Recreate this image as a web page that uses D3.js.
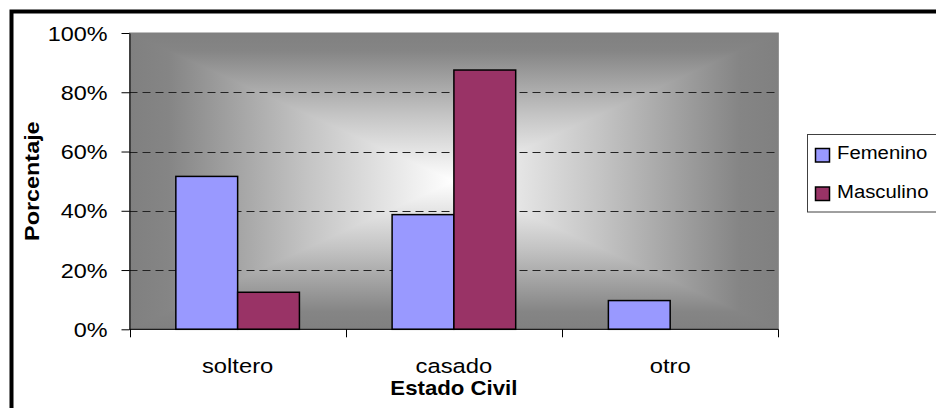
<!DOCTYPE html>
<html>
<head>
<meta charset="utf-8">
<script src="https://cdn.jsdelivr.net/npm/d3@7"></script>
<style>
  html, body { margin: 0; padding: 0; background: #fff; }
  svg { display: block; }
  text { font-family: "Liberation Sans", Arial, sans-serif; fill: #000; }
</style>
</head>
<body>
<svg id="chart" width="936" height="408"></svg>
<script>
// Estado civil por sexo (porcentaje dentro de cada sexo)
const categories = ["soltero", "casado", "otro"];
const seriesNames = ["Femenino", "Masculino"];
const femenino = [51.6, 38.7, 9.7];
const masculino = [12.5, 87.5, 0];
const yTicks = [0, 20, 40, 60, 80, 100];
const xTitle = "Estado Civil";
const yTitle = "Porcentaje";

const colors = { Femenino: "#9999ff", Masculino: "#993366" };
const seriesValues = { Femenino: femenino, Masculino: masculino };

const svg = d3.select("#chart");
const plot = { x0: 129.5, x1: 778.3, y0: 33, y1: 329.3 };

// Outer chart frame (continues past the right and bottom edges)
svg.append("rect")
  .attr("x", 11.5).attr("y", 11.5)
  .attr("width", 1000).attr("height", 500)
  .attr("fill", "#fff").attr("stroke", "#000").attr("stroke-width", 4);

const x = d3.scaleBand().domain(categories).range([plot.x0, plot.x1]);
const y = d3.scaleLinear().domain([0, 100]).range([plot.y1, plot.y0]);
// gap width 150%: two bars + 1.5 bar widths of gap per category
const barW = x.bandwidth() / 3.5;
const xs = d3.scaleBand().domain(seriesNames).range([0, barW * 2]);

// Plot background: rectangular gradient from the centre out to the edges
const defs = svg.append("defs");
const cx = (plot.x0 + plot.x1) / 2, cy = (plot.y0 + plot.y1) / 2;
const stops = [[0, "#808080"], [0.12, "#858585"], [0.55, "#c4c4c4"], [1, "#ffffff"]];
function grad(id, x1, y1, x2, y2) {
  const g = defs.append("linearGradient").attr("id", id)
    .attr("gradientUnits", "userSpaceOnUse")
    .attr("x1", x1).attr("y1", y1).attr("x2", x2).attr("y2", y2);
  stops.forEach(s => g.append("stop").attr("offset", s[0]).attr("stop-color", s[1]));
}
grad("gL", plot.x0, 0, cx, 0);
grad("gR", plot.x1, 0, cx, 0);
grad("gT", 0, plot.y0, 0, cy);
grad("gB", 0, plot.y1, 0, cy);

const bg = svg.append("g");
bg.append("rect").attr("x", plot.x0).attr("y", plot.y0)
  .attr("width", plot.x1 - plot.x0).attr("height", plot.y1 - plot.y0).attr("fill", "#b0b0b0");
const tri = [
  ["gL", [[plot.x0, plot.y0], [cx, cy], [plot.x0, plot.y1]]],
  ["gR", [[plot.x1, plot.y0], [cx, cy], [plot.x1, plot.y1]]],
  ["gT", [[plot.x0, plot.y0], [plot.x1, plot.y0], [cx, cy]]],
  ["gB", [[plot.x0, plot.y1], [plot.x1, plot.y1], [cx, cy]]]
];
tri.forEach(([id, pts]) => {
  bg.append("polygon").attr("points", pts.map(p => p.join(",")).join(" "))
    .attr("fill", `url(#${id})`)
    .attr("shape-rendering", "crispEdges");
});
bg.append("rect").attr("x", plot.x0).attr("y", plot.y0)
  .attr("width", plot.x1 - plot.x0).attr("height", plot.y1 - plot.y0)
  .attr("fill", "none").attr("stroke", "#808080").attr("stroke-width", 1);

// Dashed gridlines
svg.append("g").selectAll("line")
  .data(yTicks.filter(t => t > 0 && t < 100))
  .join("line")
  .attr("x1", plot.x0).attr("x2", plot.x1)
  .attr("y1", d => Math.round(y(d)) + 0.5).attr("y2", d => Math.round(y(d)) + 0.5)
  .attr("stroke", "#222").attr("stroke-width", 1)
  .attr("stroke-dasharray", "8,5");

// Bars
const barData = [];
categories.forEach((c, i) => seriesNames.forEach(s => {
  barData.push({ cat: c, series: s, value: seriesValues[s][i] });
}));
svg.append("g").selectAll("rect")
  .data(barData.filter(d => d.value > 0))
  .join("rect")
  .attr("x", d => x(d.cat) + (x.bandwidth() - 2 * barW) / 2 + xs(d.series))
  .attr("y", d => y(d.value))
  .attr("width", barW)
  .attr("height", d => y(0) - y(d.value))
  .attr("fill", d => colors[d.series])
  .attr("stroke", "#000").attr("stroke-width", 1.5);

// Y axis
const yAxis = svg.append("g")
  .attr("transform", `translate(${plot.x0},0)`)
  .call(d3.axisLeft(y).tickValues(yTicks).tickFormat(d => d + "%").tickSize(8).tickSizeOuter(0));
yAxis.select(".domain").attr("stroke", "#000");
yAxis.selectAll(".tick line").attr("stroke", "#000");
yAxis.selectAll(".tick text")
  .attr("x", -22 / 1.2).attr("dy", "0.36em")
  .attr("transform", "scale(1.2,1)")
  .style("font-size", "19.5px").style("font-family", '"Liberation Sans", Arial, sans-serif')
  .attr("fill", "#000");

// X axis: baseline with ticks on category boundaries
const xAxisG = svg.append("g");
xAxisG.append("line")
  .attr("x1", plot.x0).attr("x2", plot.x1)
  .attr("y1", plot.y1).attr("y2", plot.y1)
  .attr("stroke", "#000").attr("stroke-width", 1);
const bounds = categories.map(c => x(c)).concat([plot.x1]);
xAxisG.selectAll("line.tk").data(bounds).join("line").attr("class", "tk")
  .attr("x1", d => Math.round(d) + 0.5).attr("x2", d => Math.round(d) + 0.5)
  .attr("y1", plot.y1).attr("y2", plot.y1 + 8)
  .attr("stroke", "#000");
xAxisG.selectAll("text").data(categories).join("text")
  .attr("transform", d => `translate(${x(d) + x.bandwidth() / 2},373) scale(1.22,1)`)
  .attr("text-anchor", "middle")
  .style("font-size", "19.5px")
  .text(d => d);

// Axis titles
svg.append("text")
  .attr("transform", `translate(${cx},395) scale(1.14,1)`)
  .attr("text-anchor", "middle")
  .style("font-size", "19.5px").style("font-weight", "bold")
  .text(xTitle);
svg.append("text")
  .attr("transform", `translate(38.5,${cy}) rotate(-90) scale(1.2,1)`)
  .attr("text-anchor", "middle")
  .style("font-size", "19.5px").style("font-weight", "bold")
  .text(yTitle);

// Legend
const lg = svg.append("g");
lg.append("rect").attr("x", 807.5).attr("y", 134.5)
  .attr("width", 200).attr("height", 77.5)
  .attr("fill", "#fff").attr("stroke", "#404040").attr("stroke-width", 1);
const items = lg.selectAll("g.item").data(seriesNames).join("g").attr("class", "item")
  .attr("transform", (d, i) => `translate(815.5,${148.5 + i * 38.5})`);
items.append("rect").attr("width", 14).attr("height", 13.5)
  .attr("fill", d => colors[d]).attr("stroke", "#000").attr("stroke-width", 1.5);
items.append("text")
  .attr("transform", "translate(21.5,10.5) scale(1.07,1)")
  .style("font-size", "19px")
  .text(d => d);
</script>
</body>
</html>
